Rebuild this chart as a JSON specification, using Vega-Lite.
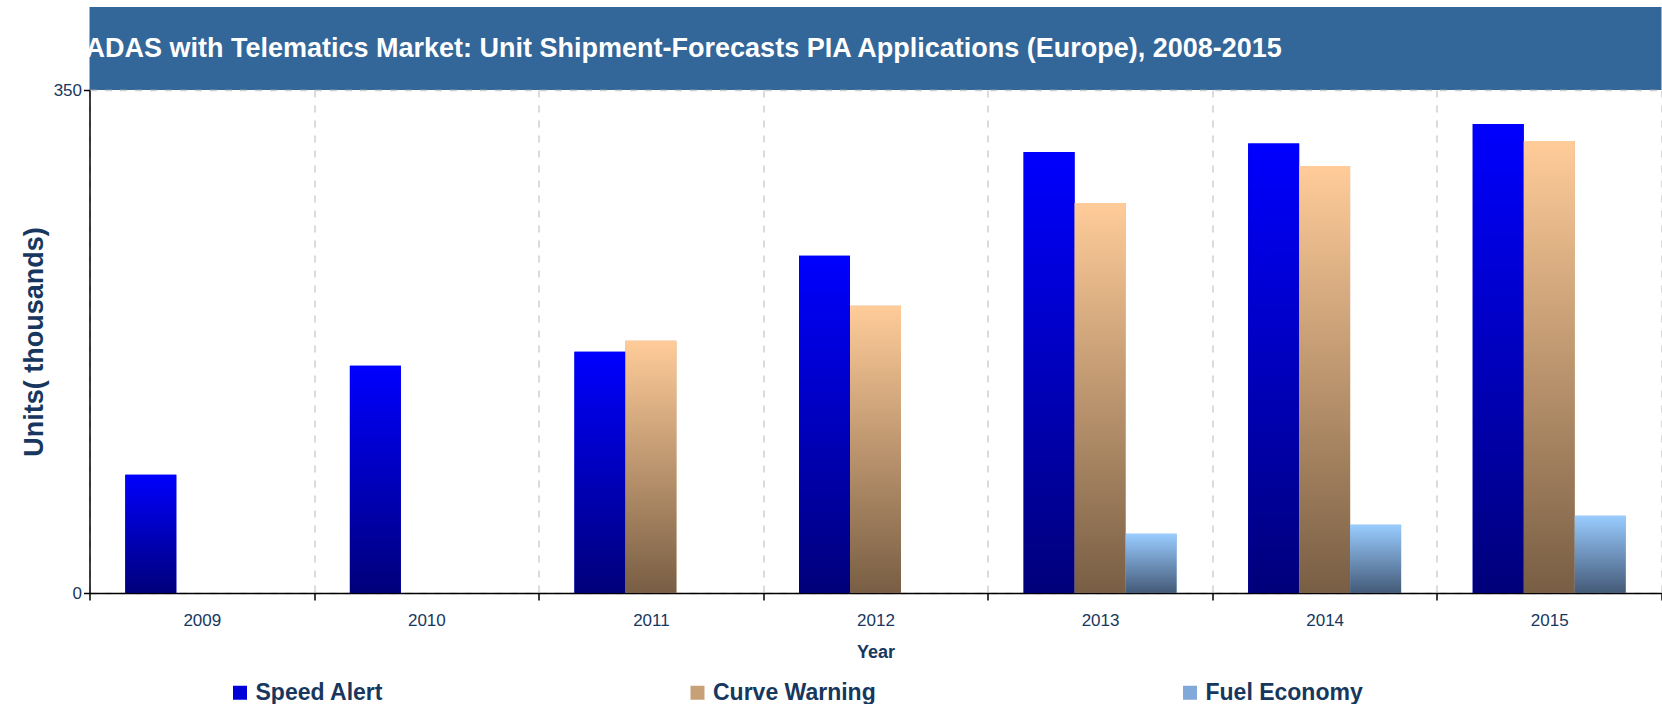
{
  "$schema": "https://vega.github.io/schema/vega-lite/v6.json",
  "padding": {"left": 19.5, "top": 7, "right": 0, "bottom": 0},
  "background": "white",
  "spacing": 0,
  "bounds": "flush",
  "config": {
    "view": {"stroke": null},
    "font": "Liberation Sans",
    "concat": {"spacing": 0}
  },
  "vconcat": [
    {
      "width": 1572,
      "height": 83,
      "data": {"values": [{"t": 1}]},
      "mark": {"type": "rect", "color": "#336699"},
      "encoding": {},
      "title": {
        "text": "ADAS with Telematics Market: Unit Shipment-Forecasts PIA Applications  (Europe), 2008-2015",
        "anchor": "start",
        "frame": "group",
        "orient": "top",
        "offset": -77,
        "baseline": "alphabetic",
        "color": "white",
        "fontSize": 27,
        "fontWeight": "bold",
        "font": "Liberation Sans",
        "dx": -4
      }
    },
    {
      "width": 1572,
      "height": 503,
      "data": {
        "values": [
          {"year": "2009", "series": "Speed Alert", "value": 82.3},
          {"year": "2010", "series": "Speed Alert", "value": 158.1},
          {"year": "2011", "series": "Speed Alert", "value": 167.8},
          {"year": "2011", "series": "Curve Warning", "value": 175.5},
          {"year": "2012", "series": "Speed Alert", "value": 234.6},
          {"year": "2012", "series": "Curve Warning", "value": 199.8},
          {"year": "2013", "series": "Speed Alert", "value": 306.9},
          {"year": "2013", "series": "Curve Warning", "value": 271.4},
          {"year": "2013", "series": "Fuel Economy", "value": 41.2},
          {"year": "2014", "series": "Speed Alert", "value": 312.7},
          {"year": "2014", "series": "Curve Warning", "value": 297.1},
          {"year": "2014", "series": "Fuel Economy", "value": 47.5},
          {"year": "2015", "series": "Speed Alert", "value": 326.4},
          {"year": "2015", "series": "Curve Warning", "value": 314.5},
          {"year": "2015", "series": "Fuel Economy", "value": 53.8}
        ]
      },
      "encoding": {
        "x": {
          "field": "year",
          "type": "ordinal",
          "scale": {"paddingInner": 0, "paddingOuter": 0},
          "axis": {
            "title": "Year",
            "labelAngle": 0,
            "tickBand": "extent",
            "grid": true,
            "gridDash": [7, 8],
            "gridColor": "#cfcfcf",
            "gridWidth": 1.5,
            "domainColor": "black",
            "domainWidth": 1.5,
            "tickColor": "black",
            "tickWidth": 1.5,
            "tickSize": 7,
            "labelFont": "Liberation Sans",
            "labelFontSize": 17,
            "labelColor": "#17375E",
            "labelPadding": 12,
            "titleFont": "Liberation Sans",
            "titleFontSize": 18,
            "titleFontWeight": "bold",
            "titleColor": "#17375E",
            "titlePadding": 15
          }
        },
        "xOffset": {
          "field": "series",
          "type": "nominal",
          "scale": {"domain": ["Speed Alert", "Curve Warning", "Fuel Economy"], "paddingInner": 0, "paddingOuter": 0.702}
        },
        "y": {
          "field": "value",
          "type": "quantitative",
          "scale": {"domain": [0, 350], "nice": false},
          "axis": {
            "title": "Units( thousands)",
            "values": [0, 350],
            "grid": true,
            "gridDash": [7, 8],
            "gridColor": "#cfcfcf",
            "gridWidth": 1.5,
            "domainColor": "black",
            "domainWidth": 1.5,
            "tickColor": "black",
            "tickWidth": 1.5,
            "tickSize": 6,
            "labelFont": "Liberation Sans",
            "labelFontSize": 17,
            "labelColor": "#17375E",
            "labelPadding": 2,
            "titleFont": "Liberation Sans",
            "titleFontSize": 27,
            "titleFontWeight": "bold",
            "titleColor": "#17375E",
            "titlePadding": 5
          }
        }
      },
      "layer": [
        {
          "mark": {"type": "bar"},
          "encoding": {
            "color": {
              "field": "series",
              "type": "nominal",
              "scale": {
                "domain": ["Speed Alert", "Curve Warning", "Fuel Economy"],
                "range": ["#0000D8", "#C8A078", "#80A8D8"]
              },
              "legend": {
                "title": null,
                "orient": "none",
                "legendX": 139,
                "legendY": 674,
                "direction": "horizontal",
                "columns": 3,
                "columnPadding": 302.5,
                "symbolType": "square",
                "symbolSize": 196,
                "symbolStrokeWidth": 0,
                "labelFont": "Liberation Sans",
                "labelFontSize": 23,
                "labelFontWeight": "bold",
                "labelColor": "#17375E",
                "labelOffset": 4,
                "labelLimit": 400,
                "padding": 0
              }
            }
          }
        },
        {
          "transform": [{"filter": "datum.series === 'Speed Alert'"}],
          "mark": {"type": "bar", "color": {"gradient": "linear", "x1": 0, "y1": 0, "x2": 0, "y2": 1, "stops": [{"offset": 0, "color": "#0000FF"}, {"offset": 1, "color": "#00007A"}]}}
        },
        {
          "transform": [{"filter": "datum.series === 'Curve Warning'"}],
          "mark": {"type": "bar", "color": {"gradient": "linear", "x1": 0, "y1": 0, "x2": 0, "y2": 1, "stops": [{"offset": 0, "color": "#FFCC99"}, {"offset": 1, "color": "#785E44"}]}}
        },
        {
          "transform": [{"filter": "datum.series === 'Fuel Economy'"}],
          "mark": {"type": "bar", "color": {"gradient": "linear", "x1": 0, "y1": 0, "x2": 0, "y2": 1, "stops": [{"offset": 0, "color": "#99CCFF"}, {"offset": 1, "color": "#445A78"}]}}
        }
      ]
    }
  ]
}
